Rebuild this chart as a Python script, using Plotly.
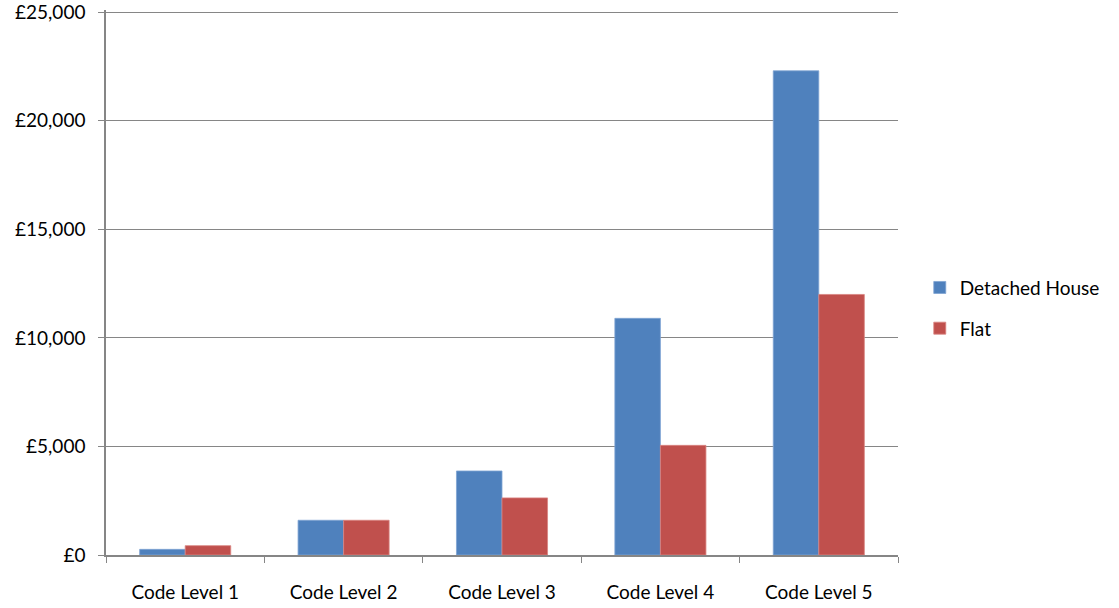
import plotly.graph_objects as go

# Cost per dwelling by Code level
categories = ["Code Level 1", "Code Level 2", "Code Level 3", "Code Level 4", "Code Level 5"]
detached_house = [260, 1600, 3870, 10900, 22300]
flat = [430, 1600, 2630, 5050, 12000]
y_tick_values = [0, 5000, 10000, 15000, 20000, 25000]
y_tick_labels = ["£0", "£5,000", "£10,000", "£15,000", "£20,000", "£25,000"]

FONT = "Lato"
AXIS_GREY = "#868686"

fig = go.Figure()
fig.add_trace(go.Bar(
    name="Detached House", x=categories, y=detached_house, legendgroup="house",
    marker=dict(color="#4F81BD", line=dict(color="#7FA3D3", width=0.8)),
))
fig.add_trace(go.Bar(
    name="Flat", x=categories, y=flat, legendgroup="flat",
    marker=dict(color="#C0504D", line=dict(color="#D98481", width=0.8)),
))

fig.update_layout(
    width=1119, height=608,
    margin=dict(l=106, r=221, t=10, b=53, autoexpand=False),
    paper_bgcolor="white", plot_bgcolor="white",
    barmode="group", bargap=0.425, bargroupgap=0,
    font=dict(family=FONT, size=19, color="black"),
    showlegend=True,
    legend=dict(
        x=1.0275, y=0.453, xanchor="left", yanchor="middle",
        font=dict(family=FONT, size=19, color="black"),
        traceorder="grouped", tracegroupgap=13, itemwidth=30,
    ),
    xaxis=dict(
        showline=True, linecolor=AXIS_GREY, linewidth=1.5,
        tickson="boundaries", ticks="outside", ticklen=6, tickcolor=AXIS_GREY,
        showgrid=False, ticklabelstandoff=19, automargin=False,
        tickfont=dict(family=FONT, size=19, color="black"),
    ),
    yaxis=dict(
        range=[0, 25100],
        tickvals=y_tick_values, ticktext=y_tick_labels,
        showline=True, linecolor=AXIS_GREY, linewidth=1.5,
        ticks="outside", ticklen=6, tickcolor=AXIS_GREY,
        showgrid=True, gridcolor=AXIS_GREY, gridwidth=1,
        zeroline=False, ticklabelstandoff=9, automargin=False,
        ticklabeloverflow="allow",
        tickfont=dict(family=FONT, size=19, color="black"),
    ),
)

fig.write_html("out.html")
